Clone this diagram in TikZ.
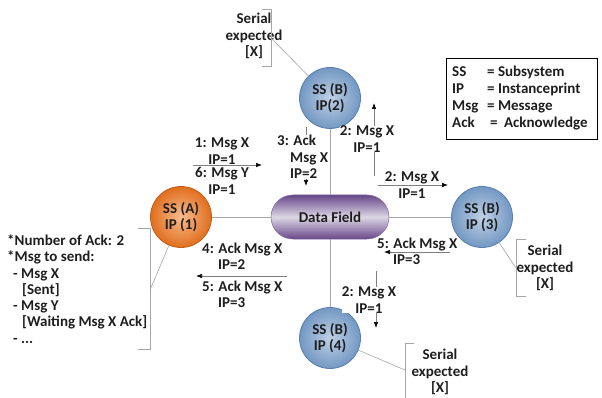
\documentclass[tikz,border=0pt]{standalone}
\usepackage{fontspec}
\setmainfont{Carlito}
\usetikzlibrary{arrows.meta}
\definecolor{txtc}{HTML}{1E1E1E}
\definecolor{linec}{HTML}{A6A6A6}
\definecolor{arrc}{HTML}{7F7F7F}
\definecolor{orI}{HTML}{F8BC8E}
\definecolor{orO}{HTML}{E06E1E}
\definecolor{orB}{HTML}{C25E18}
\definecolor{blI}{HTML}{BFD0E5}
\definecolor{blO}{HTML}{7398C3}
\definecolor{blB}{HTML}{5A7EAD}
\definecolor{dfE}{HTML}{674789}
\definecolor{dfM}{HTML}{DCD6E4}
\definecolor{dfB}{HTML}{7E66A0}
\begin{document}
\begin{tikzpicture}[x=1pt,y=-1pt,
  txt/.style={font=\fontsize{15}{16.3}\selectfont\bfseries, text=txtc, inner sep=0pt, align=center},
  ln/.style={draw=linec, line width=0.6pt},
  arr/.style={draw=arrc, line width=0.6pt, -{Latex[length=6pt,width=4.5pt,black]}},
  ssA/.style={txt, circle, minimum size=61pt, draw=orB, line width=0.8pt, inner color=orI, outer color=orO},
  ssB/.style={txt, circle, minimum size=61pt, draw=blB, line width=0.8pt, inner color=blI, outer color=blO},
  dfield/.style={txt, rectangle, rounded corners=21.9pt, minimum width=118pt, minimum height=44pt, draw=dfB, line width=0.5pt, top color=dfE, bottom color=dfE, middle color=dfM}
]
\useasboundingbox (0,0) rectangle (602,398);

% main nodes
\node[ssA] (A) at (181,217) {SS (A)\\IP (1)};
\node[ssB] (B2) at (330,98) {SS (B)\\IP(2)};
\node[ssB] (B3) at (482,217) {SS (B)\\IP (3)};
\node[ssB] (B4) at (330,338) {SS (B)\\IP (4)};
\node[dfield] (DF) at (330,217) {Data Field};

% connecting lines
\draw[ln] (A) -- (DF);
\draw[ln] (DF) -- (B3);
\draw[ln] (B2) -- (DF);
\draw[ln] (DF) -- (B4);

% arrow end points
\coordinate (a1s) at (193,165); \coordinate (a1e) at (262,165);
\coordinate (a3s) at (306,127); \coordinate (a3e) at (306,186);
\coordinate (a2us) at (374,176); \coordinate (a2ue) at (374,103);
\coordinate (a2rs) at (378,185); \coordinate (a2re) at (448,185);
\coordinate (a5s) at (450,252); \coordinate (a5e) at (384,252);
\coordinate (a2ds) at (376,271); \coordinate (a2de) at (376,328);
\coordinate (a4s) at (287,276); \coordinate (a4e) at (196,276);

\draw[arr] (a1s) -- (a1e);
\draw[arr] (a3s) -- (a3e);
\draw[arr] (a2us) -- (a2ue);
\draw[arr] (a2rs) -- (a2re);
\draw[arr] (a5s) -- (a5e);
\draw[arr] (a2ds) -- (a2de);
\draw[arr] (a4s) -- (a4e);

% arrow labels
\node[txt] (l1) at (222,151) {1: Msg X\\IP=1};
\node[txt] (l6) at (222,181) {6: Msg Y\\IP=1};
\node[txt, align=left, anchor=west, fill=white] (l3) at (277,157) {3: Ack\\\hspace*{13pt}Msg X\\\hspace*{13pt}IP=2};
\node[txt, fill=white] (l2u) at (367,139) {2: Msg X\\IP=1};
\node[txt] (l2r) at (412,185) {2: Msg X\\IP=1};
\node[txt, align=left, anchor=west] (l5r) at (377,251) {5: Ack Msg X\\\hspace*{16pt}IP=3};
\node[txt, fill=white] (l2d) at (369,300) {2: Msg X\\IP=1};
\node[txt, align=left, anchor=west] (l4) at (202,256) {4: Ack Msg X\\\hspace*{16pt}IP=2};
\node[txt, align=left, anchor=west] (l5l) at (202,294) {5: Ack Msg X\\\hspace*{16pt}IP=3};

% callout for B2
\node[txt] (s2) at (254,36) {Serial\\expected\\{[X]}};
\coordinate (c2a) at (262,9); \coordinate (c2b) at (271,9);
\coordinate (c2c) at (271,66); \coordinate (c2d) at (262,66);
\coordinate (c2m) at (271,38);
\draw[ln] (c2a) -- (c2b) -- (c2c) -- (c2d);
\draw[ln] (c2m) -- (B2);

% callout for B3
\node[txt] (s3) at (545,268) {Serial\\expected\\{[X]}};
\coordinate (c3a) at (526,239); \coordinate (c3b) at (516,239);
\coordinate (c3c) at (516,296); \coordinate (c3d) at (526,296);
\coordinate (c3m) at (516,268);
\draw[ln] (c3a) -- (c3b) -- (c3c) -- (c3d);
\draw[ln] (c3m) -- (B3);

% callout for B4
\node[txt] (s4) at (440,372) {Serial\\expected\\{[X]}};
\coordinate (c4a) at (414,343); \coordinate (c4b) at (405,343);
\coordinate (c4c) at (405,398);
\coordinate (c4m) at (405,370);
\draw[ln] (c4a) -- (c4b) -- (c4c);
\draw[ln] (c4m) -- (B4);

% callout for A
\node[txt, align=left, anchor=west] (notes) at (7,289) {{*}Number of Ack: 2\\{*}Msg to send:\\\hspace*{6pt}- Msg X\\\hspace*{15pt}[Sent]\\\hspace*{6pt}- Msg Y\\\hspace*{15pt}[Waiting Msg X Ack]\\\hspace*{6pt}- ...};
\coordinate (caa) at (138,228); \coordinate (cab) at (150,228);
\coordinate (cac) at (150,349); \coordinate (cad) at (138,349);
\coordinate (cam) at (150,290);
\draw[ln] (caa) -- (cab) -- (cac) -- (cad);
\draw[ln] (cam) -- (A);

% legend
\node[draw=black, line width=0.6pt, rectangle, minimum width=151pt, minimum height=81pt, inner sep=0pt] (legbox) at (521.5,98.5) {};
\node[txt, font=\fontsize{15}{17.3}\selectfont\bfseries, align=left, anchor=west] (leg) at (452,98.5) {%
\begin{tabular}{@{}p{35pt}@{}l@{}}
SS & = Subsystem\\
IP & = Instanceprint\\
Msg & = Message\\
Ack & \hspace*{3pt}=\hspace*{3pt} Acknowledge
\end{tabular}};
\end{tikzpicture}
\end{document}
